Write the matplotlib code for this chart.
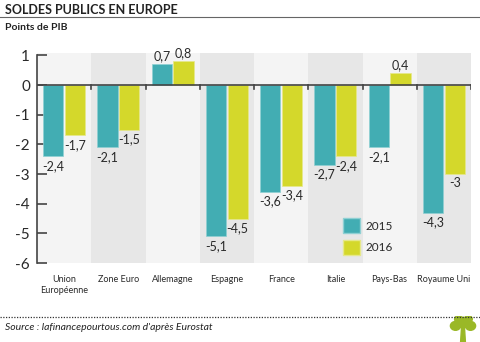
import matplotlib.pyplot as plt
import matplotlib.patches as mpatches
import numpy as np

plt.rcParams['font.family'] = ['Lato', 'DejaVu Sans']
plt.rcParams['axes.unicode_minus'] = False

categories = ['Union\nEuropéenne', 'Zone Euro', 'Allemagne', 'Espagne',
              'France', 'Italie', 'Pays-Bas', 'Royaume Uni']
values_2015 = [-2.4, -2.1, 0.7, -5.1, -3.6, -2.7, -2.1, -4.3]
values_2016 = [-1.7, -1.5, 0.8, -4.5, -3.4, -2.4, 0.4, -3.0]
series_names = ['2015', '2016']
y_ticks = [1, 0, -1, -2, -3, -4, -5, -6]

TEAL = '#42adb3'
LIME = '#d4d82b'
TXT = '#2a2a2a'


def fmt(v):
    s = '{:g}'.format(v)
    return s.replace('.', ',')


fig = plt.figure(figsize=(4.8, 3.42), dpi=100)
ax = fig.add_axes([37 / 480, 1 - 263 / 342, 434 / 480, 210 / 342])

n = len(categories)
x = np.arange(n)
w = 0.37

# alternating background bands
for i in range(n):
    ax.axvspan(i - 0.5, i + 0.5, color='#f4f4f4' if i % 2 == 0 else '#e7e7e7', lw=0, zorder=0)

b1 = ax.bar(x - 0.2, values_2015, w, color=TEAL, edgecolor='#8fd0d3', lw=0.5, zorder=2)
b2 = ax.bar(x + 0.2, values_2016, w, color=LIME, edgecolor='#e6e88a', lw=0.5, zorder=2)

for bars, vals in ((b1, values_2015), (b2, values_2016)):
    for r, v in zip(bars, vals):
        cx = r.get_x() + r.get_width() / 2
        if v >= 0:
            ax.annotate(fmt(v), (cx, v), xytext=(0, 1.5), textcoords='offset points',
                        ha='center', va='bottom', fontsize=9, color=TXT)
        else:
            ax.annotate(fmt(v), (cx, v), xytext=(0, -2.5), textcoords='offset points',
                        ha='center', va='top', fontsize=9, color=TXT)

# zero line with small ticks at group boundaries
ax.axhline(0, color='#444444', lw=1.2, zorder=3)
for b in np.arange(n) + 0.5:
    ax.plot([b, b], [0, -0.13], color='#444444', lw=1.2, zorder=3)

ax.set_xlim(-0.5, n - 0.5)
ax.set_ylim(-6, 1.08)
ax.set_yticks(y_ticks)
ax.set_yticklabels([str(t) for t in y_ticks], fontsize=11, color=TXT)
ax.tick_params(axis='y', direction='in', length=7, width=1.2, color='#444444', pad=5)
ax.set_xticks(x)
ax.set_xticklabels(categories, fontsize=6.5, color=TXT, linespacing=1.25)
ax.tick_params(axis='x', length=0, pad=9)
for s in ('top', 'right', 'bottom'):
    ax.spines[s].set_visible(False)
ax.spines['left'].set_bounds(-6, 1)
ax.spines['left'].set_color('#444444')
ax.spines['left'].set_linewidth(1.2)

# legend
handles = [mpatches.Patch(facecolor=TEAL, edgecolor='#8fd0d3'),
           mpatches.Patch(facecolor=LIME, edgecolor='#e6e88a')]
ax.legend(handles, series_names, loc='lower left', bbox_to_anchor=(306 / 434, 8 / 210),
          frameon=False, fontsize=8.5, borderpad=0, borderaxespad=0,
          handlelength=1.44, handleheight=1.6,
          handletextpad=0.5, labelspacing=0.55, labelcolor=TXT)

# titles and decorations
fig.text(5 / 480, 1 - 10 / 342, 'SOLDES PUBLICS EN EUROPE', fontsize=9,
         fontweight='bold', color='#222222', va='center')
fig.add_artist(plt.Line2D([0, 1], [1 - 17 / 342, 1 - 17 / 342], color='#666666', lw=0.8))
fig.text(5 / 480, 1 - 28 / 342, 'Points de PIB', fontsize=7.5,
         fontweight='bold', color='#222222', va='center')

fig.add_artist(plt.Line2D([0, 1], [1 - 317 / 342, 1 - 317 / 342], color='#333333',
                          lw=0.9, ls=(0, (1, 1.2))))
fig.text(5 / 480, 1 - 327 / 342, "Source : lafinancepourtous.com d'après Eurostat",
         fontsize=7.5, style='italic', color='#222222', va='center')

# small tree logo
lax = fig.add_axes([448 / 480, 0, 30 / 480, 26 / 342])
lax.set_xlim(0, 1)
lax.set_ylim(0, 1)
lax.axis('off')
lax.add_patch(mpatches.Polygon([[0.42, 0], [0.58, 0], [0.55, 0.55], [0.45, 0.55]], color='#9ab827'))
for cx, cy, r in [(0.5, 0.75, 0.2), (0.25, 0.62, 0.17), (0.75, 0.62, 0.17), (0.35, 0.88, 0.13), (0.68, 0.88, 0.13)]:
    lax.add_patch(mpatches.Circle((cx, cy), r, color='#9ab827'))

fig.savefig('out.png', dpi=100)
